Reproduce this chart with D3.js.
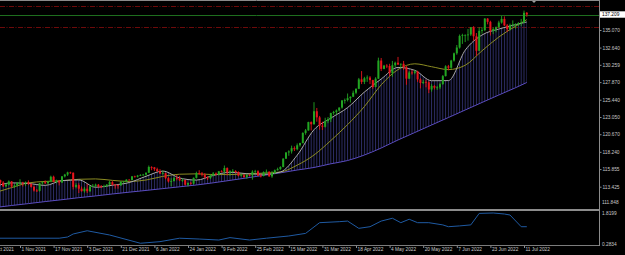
<!DOCTYPE html>
<html>
<head>
<meta charset="utf-8">
<script src="https://cdnjs.cloudflare.com/ajax/libs/d3/7.8.5/d3.min.js"></script>
<style>
html, body { margin: 0; padding: 0; background: #000; }
svg { display: block; }
.lbl { fill: #c8c8c8; font-family: "Liberation Sans", Arial, sans-serif; font-size: 4.8px; }
</style>
</head>
<body>
<div id="chart"></div>
<script>
// daily bars, 19 Oct 2021 .. 12 Jul 2022 (weekdays), ten per row
var opens = [
  114.35,114.33,114.32,114.00,113.47,113.70,114.15,113.45,113.60,113.95,
  114.00,113.95,114.05,113.80,113.40,112.90,112.85,113.90,114.05,113.90,
  114.15,114.80,114.10,114.25,114.00,114.85,115.10,115.40,115.35,113.40,
  113.65,113.15,112.80,113.15,112.80,113.45,113.55,113.70,113.45,113.40,
  113.50,113.70,114.05,113.70,113.65,113.60,114.10,114.15,114.40,114.35,
  114.85,114.80,114.95,115.05,115.10,115.35,116.15,116.10,115.85,115.55,
  115.25,115.30,114.60,114.15,114.20,114.60,114.55,114.30,114.35,113.70,
  113.95,113.85,114.65,115.30,115.25,115.10,114.70,114.60,114.95,115.25,
  115.10,115.55,115.50,116.00,115.40,115.55,115.60,115.45,114.95,115.00,
  114.75,115.05,115.00,115.50,115.55,114.95,114.90,115.45,115.50,114.85,
  115.30,115.70,115.85,116.15,117.30,118.15,118.30,118.75,118.60,119.15,
  119.45,120.85,121.20,122.35,122.05,123.85,123.00,121.85,121.70,122.50,
  122.75,123.60,123.75,123.95,124.35,125.35,125.40,125.65,125.85,126.40,
  126.95,128.25,127.90,128.40,128.50,128.15,127.20,128.35,130.85,129.70,
  130.15,130.10,129.10,130.20,130.55,130.30,130.40,129.95,128.35,129.20,
  129.15,129.35,128.25,127.75,127.90,127.85,126.85,127.35,127.10,127.15,
  127.60,128.70,130.05,129.85,130.85,131.85,132.65,134.25,134.35,134.40,
  134.45,135.45,134.20,132.20,134.95,135.05,136.65,136.20,134.95,135.20,
  135.45,136.10,136.60,135.70,135.20,135.70,135.85,135.90,136.00,136.10,
  137.45];
var highs = [
  114.45,114.70,114.40,114.20,113.90,114.30,114.20,113.75,114.05,114.45,
  114.10,114.15,114.30,113.90,113.55,113.10,113.95,114.15,114.30,114.20,
  114.95,114.95,114.40,114.30,114.90,115.20,115.50,115.50,115.40,113.90,
  113.90,113.45,113.40,113.80,113.55,113.80,113.85,113.80,113.65,113.70,
  113.80,114.25,114.20,113.80,113.75,114.20,114.20,114.45,114.45,114.90,
  114.95,115.05,115.15,115.20,115.40,116.35,116.25,116.15,116.05,115.85,
  115.65,115.35,114.75,114.60,114.80,115.05,114.90,114.60,114.40,114.00,
  114.10,114.70,115.50,115.70,115.45,115.30,114.85,115.15,115.45,115.40,
  115.60,115.70,116.35,116.10,115.70,115.85,115.70,115.55,115.25,115.15,
  115.10,115.20,115.70,115.75,115.70,115.20,115.55,115.80,115.55,115.60,
  115.80,116.05,116.25,117.35,118.20,118.45,119.10,119.00,119.40,119.50,
  120.95,121.40,122.40,122.45,125.10,124.30,123.20,122.40,122.95,123.05,
  123.65,123.90,124.10,124.40,125.35,125.60,126.30,125.90,126.70,127.00,
  128.45,129.40,128.60,128.80,128.70,128.20,128.55,131.25,131.20,130.25,
  130.35,130.40,130.80,130.70,131.35,130.45,130.80,130.10,129.40,129.55,
  129.55,129.45,128.40,128.20,128.20,128.00,127.60,127.45,127.35,127.80,
  128.85,130.20,130.25,130.95,131.95,133.00,134.45,134.55,134.45,135.20,
  135.45,135.60,134.65,135.45,135.45,136.70,136.70,136.35,135.45,135.55,
  136.35,137.00,136.95,135.90,135.95,136.40,136.00,136.15,136.60,137.75,
  137.55];
var lows = [
  113.90,113.90,113.70,113.40,113.40,113.60,113.30,113.25,113.45,113.80,
  113.45,113.50,113.65,113.30,112.75,112.70,112.75,113.70,113.80,113.75,
  114.05,114.05,113.90,113.60,113.95,114.70,114.90,115.20,113.05,113.20,
  112.55,112.75,112.60,112.55,112.70,113.35,113.35,113.30,113.25,113.35,
  113.40,113.65,113.60,113.15,113.15,113.55,113.90,114.05,114.30,114.30,
  114.70,114.70,114.90,114.95,114.95,115.30,115.70,115.60,115.50,115.20,
  115.10,114.45,114.00,113.50,114.15,114.30,114.20,114.10,113.60,113.45,
  113.70,113.75,114.55,115.10,114.85,114.55,114.35,114.50,114.85,115.00,
  115.00,115.40,115.25,115.00,114.95,115.35,115.30,114.85,114.85,114.70,
  114.50,114.90,114.40,115.30,114.90,114.70,114.85,115.25,114.80,114.65,
  115.20,115.65,115.75,116.10,117.25,117.70,118.00,118.35,118.45,118.95,
  119.40,120.60,121.15,121.20,122.00,122.40,121.30,121.25,121.60,122.20,
  122.35,123.35,123.40,123.80,124.20,124.90,125.20,125.05,125.80,126.20,
  126.90,127.60,127.60,127.90,127.60,126.95,127.15,128.30,129.40,129.65,
  129.80,128.65,128.60,129.95,130.25,129.80,129.55,127.50,128.30,128.90,
  128.95,127.90,127.00,127.60,127.15,126.35,126.55,126.85,126.80,126.90,
  127.50,128.65,129.50,129.70,130.70,131.65,132.50,133.15,133.40,133.60,
  134.25,133.60,131.50,132.15,134.55,134.90,135.85,134.30,134.50,134.75,
  135.35,135.95,135.60,134.80,135.00,135.50,135.25,135.65,135.60,136.00,
  136.90];
var closes = [
  114.33,114.32,114.00,113.47,113.70,114.15,113.45,113.60,113.95,114.00,
  113.95,114.05,113.80,113.40,112.90,112.85,113.90,114.05,113.90,114.15,
  114.80,114.10,114.25,114.00,114.85,115.10,115.40,115.35,113.40,113.65,
  113.15,112.80,113.15,112.80,113.45,113.55,113.70,113.45,113.40,113.50,
  113.70,114.05,113.70,113.65,113.60,114.10,114.15,114.40,114.35,114.85,
  114.80,114.95,115.05,115.10,115.35,116.15,116.10,115.85,115.55,115.25,
  115.30,114.60,114.15,114.20,114.60,114.55,114.30,114.35,113.70,113.95,
  113.85,114.65,115.30,115.25,115.10,114.70,114.60,114.95,115.25,115.10,
  115.55,115.50,116.00,115.40,115.55,115.60,115.45,114.95,115.00,114.75,
  115.05,115.00,115.50,115.55,114.95,114.90,115.45,115.50,114.85,115.30,
  115.70,115.85,116.15,117.30,118.15,118.30,118.75,118.60,119.15,119.45,
  120.85,121.20,122.35,122.05,123.85,123.00,121.85,121.70,122.50,122.75,
  123.60,123.75,123.95,124.35,125.35,125.40,125.65,125.85,126.40,126.95,
  128.25,127.90,128.40,128.50,128.15,127.20,128.35,130.85,129.70,130.15,
  130.10,129.10,130.20,130.55,130.30,130.40,129.95,128.35,129.20,129.15,
  129.35,128.25,127.75,127.90,127.85,126.85,127.35,127.10,127.15,127.60,
  128.70,130.05,129.85,130.85,131.85,132.65,134.25,134.35,134.40,134.45,
  135.45,134.20,132.20,134.95,135.05,136.65,136.20,134.95,135.20,135.45,
  136.10,136.60,135.70,135.20,135.70,135.85,135.90,136.00,136.10,137.45,
  137.21];

// moving averages read every 6 bars (bar index)
var maIdx = [0,6,12,18,24,30,36,42,48,54,60,66,72,78,84,90,96,102,108,114,120,126,132,138,144,150,156,162,168,174,180,186,190];
var maFast = [113.45,113.95,113.87,113.61,114.26,114.36,113.35,113.63,114.00,114.86,115.58,114.63,114.34,114.98,115.42,115.22,115.14,115.46,117.78,121.30,122.90,124.35,126.50,128.30,129.90,129.50,128.06,128.08,132.28,134.38,135.20,135.81,136.18];
var maMid = [112.60,113.30,113.95,114.15,114.25,114.45,114.50,114.30,114.15,114.35,114.85,115.15,115.20,115.10,115.10,115.20,115.30,115.45,116.40,117.80,119.80,122.00,124.50,127.50,129.60,130.40,130.00,129.60,130.20,132.20,134.10,135.60,136.50];
var maSlow = [110.54,110.83,111.09,111.37,111.63,111.91,112.15,112.42,112.67,112.91,113.16,113.41,113.66,113.96,114.30,114.64,115.00,115.34,115.73,116.08,116.59,117.04,117.80,118.77,119.88,120.91,121.95,122.98,124.02,125.06,126.09,127.10,127.82];

// lower window indicator
var indIdx = [0,23,26,28,33,41,52,59,66,73,80,84,91,97,105,111,116,123,126,130,134,138,142,145,148,151,155,160,162,166,170,173,178,182,184,188,190];
var indVal = [0.57,0.57,0.63,0.78,0.94,0.73,0.32,0.40,0.57,0.53,0.48,0.60,0.48,0.57,0.68,0.81,1.34,1.39,1.42,1.06,1.14,1.42,1.56,1.34,1.51,1.34,1.34,1.23,1.14,1.18,1.23,1.80,1.82,1.77,1.72,1.14,1.14];

var priceTicks = [135.070, 132.640, 130.259, 127.870, 125.440, 123.050, 120.670, 118.240, 115.855, 113.425];
var priceMinLabel = "111.848";
var bidPrice = 137.209;
var redLevels = [138.34, 135.44];
var subTicks = ["1.8199", "0.2834"];
var subRange = [0.2834, 1.8199];

var dateIdx = [-3, 9, 21, 33, 45, 57, 69, 81, 93, 105, 117, 129, 141, 153, 165, 177, 189];
var dateLabels = ["14 Oct 2021", "1 Nov 2021", "17 Nov 2021", "3 Dec 2021", "21 Dec 2021", "6 Jan 2022",
  "24 Jan 2022", "9 Feb 2022", "25 Feb 2022", "15 Mar 2022", "31 Mar 2022", "18 Apr 2022", "4 May 2022",
  "20 May 2022", "7 Jun 2022", "23 Jun 2022", "11 Jul 2022"];

var width = 625, height = 255;
var plotR = 599, mainB = 209, subT = 211, subB = 245;

var svg = d3.select('#chart').append('svg')
    .attr('width', width)
    .attr('height', height)
    .style('background', '#000');

var x = d3.scaleLinear().domain([9, 189]).range([20, 524]);
var y = d3.scaleLinear().domain([113.425, 135.07]).range([186.7, 30]);
var ys = d3.scaleLinear().domain(subRange).range([244, 213]);

var defs = svg.append('defs');
defs.append('clipPath').attr('id', 'clipMain')
    .append('rect').attr('x', 0).attr('y', 1).attr('width', plotR).attr('height', mainB - 1);
defs.append('clipPath').attr('id', 'clipSub')
    .append('rect').attr('x', 0).attr('y', subT).attr('width', plotR).attr('height', subB - subT);

var hatch = defs.append('pattern')
    .attr('id', 'hatch')
    .attr('patternUnits', 'userSpaceOnUse')
    .attr('x', x(0) - 0.5)
    .attr('y', 0)
    .attr('width', x(1) - x(0))
    .attr('height', 20);
hatch.append('rect').attr('width', 1).attr('height', 20).attr('fill', '#2e2e68');

var main = svg.append('g').attr('clip-path', 'url(#clipMain)');

// horizontal level lines
main.selectAll('.lvl')
    .data(redLevels)
    .enter().append('line')
    .attr('x1', 0).attr('x2', plotR)
    .attr('y1', function (d) { return Math.round(y(d)) + 0.5; })
    .attr('y2', function (d) { return Math.round(y(d)) + 0.5; })
    .attr('stroke', '#6e0a0a')
    .attr('stroke-dasharray', '5,1.5,1,1.5');

main.append('line')
    .attr('x1', 0).attr('x2', plotR)
    .attr('y1', Math.round(y(bidPrice)) + 0.5)
    .attr('y2', Math.round(y(bidPrice)) + 0.5)
    .attr('stroke', '#1e6e1e');

var maData = maIdx.map(function (k, j) {
    return { k: k, fast: maFast[j], mid: maMid[j], slow: maSlow[j] };
});

var band = d3.area()
    .x(function (d) { return x(d.k); })
    .y0(function (d) { return y(d.slow); })
    .y1(function (d) { return y(d.fast); })
    .curve(d3.curveMonotoneX);

main.append('path')
    .datum(maData)
    .attr('d', band)
    .attr('fill', 'url(#hatch)');

function maLine(key) {
    return d3.line()
        .x(function (d) { return x(d.k); })
        .y(function (d) { return y(d[key]); })
        .curve(d3.curveMonotoneX);
}

main.append('path').datum(maData).attr('d', maLine('slow'))
    .attr('fill', 'none').attr('stroke', '#5a4cc0').attr('stroke-width', 1);
main.append('path').datum(maData).attr('d', maLine('mid'))
    .attr('fill', 'none').attr('stroke', '#8c8c22').attr('stroke-width', 1);
main.append('path').datum(maData).attr('d', maLine('fast'))
    .attr('fill', 'none').attr('stroke', '#a8a8a8').attr('stroke-width', 1);

// candles
var bars = d3.range(opens.length);
var candle = main.append('g').selectAll('g')
    .data(bars)
    .enter().append('g');

function barColor(k) { return closes[k] >= opens[k] ? '#22a522' : '#e8141c'; }

candle.append('line')
    .attr('x1', function (k) { return x(k); })
    .attr('x2', function (k) { return x(k); })
    .attr('y1', function (k) { return y(highs[k]); })
    .attr('y2', function (k) { return y(lows[k]); })
    .attr('stroke', barColor)
    .attr('stroke-width', 0.9);

candle.append('rect')
    .attr('x', function (k) { return x(k) - 1; })
    .attr('width', 2)
    .attr('y', function (k) { return y(Math.max(opens[k], closes[k])); })
    .attr('height', function (k) { return Math.max(0.8, Math.abs(y(opens[k]) - y(closes[k]))); })
    .attr('fill', barColor);

// shift marker
svg.append('path')
    .attr('d', 'M531,0 L537,0 L534,3 Z')
    .attr('fill', '#a0a0a0');

// frame
svg.append('line').attr('x1', 0).attr('x2', plotR).attr('y1', 0.5).attr('y2', 0.5).attr('stroke', '#8a8a8a');
svg.append('rect').attr('x', 0).attr('y', mainB).attr('width', plotR).attr('height', 2).attr('fill', '#8c8c8c');
svg.append('line').attr('x1', 0).attr('x2', plotR).attr('y1', subB + 0.5).attr('y2', subB + 0.5).attr('stroke', '#7c7c7c');
svg.append('line').attr('x1', plotR + 0.5).attr('x2', plotR + 0.5).attr('y1', 0).attr('y2', subB + 1).attr('stroke', '#8c8c8c');

// price axis
var yAxis = svg.append('g')
    .attr('transform', 'translate(' + (plotR + 0.5) + ',0)')
    .call(d3.axisRight(y).tickValues(priceTicks).tickSize(2).tickPadding(1).tickFormat(d3.format('.3f')));
yAxis.select('.domain').remove();
yAxis.selectAll('line').attr('stroke', '#8c8c8c');
yAxis.selectAll('text').attr('class', 'lbl').attr('fill', null).attr('font-size', null).attr('font-family', null);

svg.append('text').attr('class', 'lbl')
    .attr('x', plotR + 3).attr('y', 202.7).attr('dy', '0.35em')
    .text(priceMinLabel);

// bid label
svg.append('rect')
    .attr('x', plotR + 1).attr('y', y(bidPrice) - 3.2)
    .attr('width', 25).attr('height', 6.4)
    .attr('fill', '#ffffff');
svg.append('text').attr('class', 'lbl')
    .attr('x', plotR + 3).attr('y', y(bidPrice)).attr('dy', '0.35em')
    .style('fill', '#000')
    .text(d3.format('.3f')(bidPrice));

// lower window
var sub = svg.append('g').attr('clip-path', 'url(#clipSub)');
sub.append('path')
    .datum(indIdx.map(function (k, j) { return [k, indVal[j]]; }))
    .attr('d', d3.line()
        .x(function (d) { return x(d[0]); })
        .y(function (d) { return ys(d[1]); }))
    .attr('fill', 'none')
    .attr('stroke', '#1f5aa2')
    .attr('stroke-width', 1);

svg.selectAll('.subLbl')
    .data(subTicks)
    .enter().append('text')
    .attr('class', 'lbl')
    .attr('x', plotR + 3)
    .attr('y', function (d) { return ys(+d); })
    .attr('dy', '0.35em')
    .text(function (d) { return d; });

// date axis
var xAxis = svg.append('g')
    .attr('transform', 'translate(0,' + (subB + 1) + ')')
    .call(d3.axisBottom(x).tickValues(dateIdx).tickSize(2).tickFormat(function (d, i) { return dateLabels[i]; }));
xAxis.select('.domain').remove();
xAxis.selectAll('line').attr('stroke', '#8c8c8c');
xAxis.selectAll('text')
    .attr('class', 'lbl').attr('fill', null).attr('font-size', null).attr('font-family', null)
    .attr('text-anchor', 'start')
    .attr('x', 1)
    .attr('y', 2)
    .attr('dy', '0.71em');
</script>
</body>
</html>
